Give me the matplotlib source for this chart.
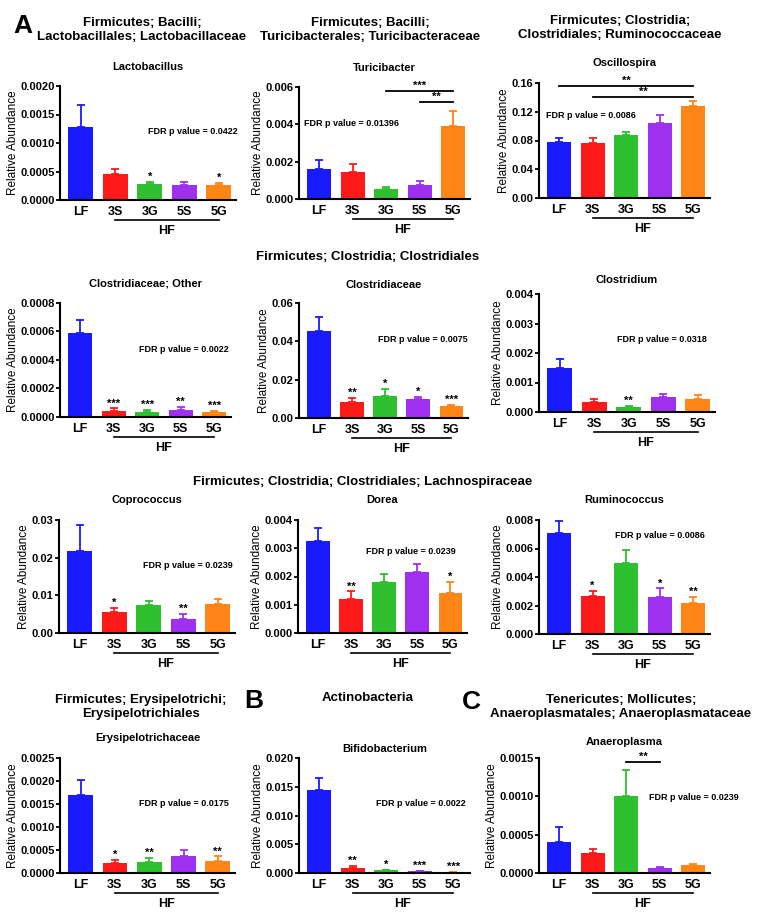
import matplotlib.pyplot as plt
import numpy as np
from matplotlib.ticker import FormatStrFormatter

plt.rcParams['font.family'] = ['Liberation Sans', 'DejaVu Sans']
plt.rcParams['font.weight'] = 'bold'

W, H = 762, 916

groups = ["LF", "3S", "3G", "5S", "5G"]
colors = ["#1a1aff", "#ff1a1a", "#2ec02e", "#a030f0", "#ff8516"]

# mean and upper SEM for each genus
lacto_mean = [0.00128, 0.00045, 0.00028, 0.00027, 0.00027]
lacto_sem = [0.00038, 0.00009, 0.00004, 0.00005, 0.00003]
lacto_stars = ["", "", "*", "", "*"]

turici_mean = [0.0016, 0.00145, 0.00052, 0.00075, 0.0039]
turici_sem = [0.0005, 0.00045, 0.00013, 0.0002, 0.0008]
turici_stars = ["", "", "", "", ""]
turici_brackets = [(2, 4, 0.0058, "***"), (3, 4, 0.0052, "**")]

oscillo_mean = [0.078, 0.077, 0.087, 0.105, 0.128]
oscillo_sem = [0.005, 0.006, 0.005, 0.011, 0.007]
oscillo_stars = ["", "", "", "", ""]
oscillo_brackets = [(0, 4, 0.156, "**"), (1, 4, 0.141, "**")]

cl_other_mean = [0.00059, 0.000042, 0.000038, 0.000048, 0.000033]
cl_other_sem = [0.00009, 0.000018, 0.000012, 0.00002, 0.000012]
cl_other_stars = ["", "***", "***", "**", "***"]

clfam_mean = [0.0455, 0.0085, 0.0115, 0.0097, 0.0062]
clfam_sem = [0.0072, 0.0018, 0.0037, 0.0015, 0.0006]
clfam_stars = ["", "**", "*", "*", "***"]

clost_mean = [0.00148, 0.00035, 0.00018, 0.0005, 0.00045]
clost_sem = [0.00032, 0.0001, 0.00004, 0.00012, 0.00013]
clost_stars = ["", "", "**", "", ""]

copro_mean = [0.0218, 0.0055, 0.0074, 0.0038, 0.0077]
copro_sem = [0.0068, 0.0011, 0.0012, 0.0012, 0.0014]
copro_stars = ["", "*", "", "**", ""]

dorea_mean = [0.00325, 0.0012, 0.0018, 0.00215, 0.0014]
dorea_sem = [0.00045, 0.00027, 0.0003, 0.0003, 0.0004]
dorea_stars = ["", "**", "", "", "*"]

rumino_mean = [0.0071, 0.0027, 0.0050, 0.0026, 0.0022]
rumino_sem = [0.0008, 0.0003, 0.0009, 0.0006, 0.0004]
rumino_stars = ["", "*", "", "*", "**"]

erysi_mean = [0.0017, 0.00022, 0.00024, 0.00037, 0.00026]
erysi_sem = [0.00033, 0.00006, 0.00009, 0.00012, 0.0001]
erysi_stars = ["", "*", "**", "", "**"]

bifido_mean = [0.0144, 0.0009, 0.0005, 0.0003, 0.0002]
bifido_sem = [0.0021, 0.0004, 0.0001, 0.00005, 0.00003]
bifido_stars = ["", "**", "*", "***", "***"]

anaero_mean = [0.0004, 0.00026, 0.0010, 0.00007, 0.0001]
anaero_sem = [0.0002, 0.00005, 0.00035, 0.00001, 0.00002]
anaero_stars = ["", "", "", "", ""]
anaero_brackets = [(2, 3, 0.00145, "**")]

fig = plt.figure(figsize=(W / 100, H / 100), dpi=100)


def ftext(x, y, s, **kw):
    fig.text(x / W, 1 - y / H, s, ha='center', va='center', **kw)


def panel(box, mean, sem, stars, ymax, nticks, fmt, title, title_y, fdr, fdr_xy, brackets=()):
    l, t, r, b = box
    ax = fig.add_axes([l / W, 1 - b / H, (r - l) / W, (b - t) / H])
    x = np.arange(len(groups))
    ax.bar(x, mean, width=0.72, color=colors, zorder=2)
    for i in x:
        ax.errorbar(i, mean[i], yerr=[[0], [sem[i]]], fmt='none', ecolor=colors[i],
                    elinewidth=1.3, capsize=3.2, capthick=1.3, zorder=1)
        if stars[i]:
            ax.annotate(stars[i], (i, mean[i] + sem[i]), xytext=(0, 0),
                        textcoords='offset points', ha='center', va='bottom', fontsize=8)
    for i1, i2, y, lab in brackets:
        ax.plot([i1, i2], [y, y], color='black', lw=1.3, clip_on=False)
        ax.text((i1 + i2) / 2, y, lab, ha='center', va='bottom', fontsize=8)
    ax.set_xlim(-0.6, 4.5)
    ax.set_ylim(0, ymax)
    ax.set_yticks(np.linspace(0, ymax, nticks + 1))
    ax.yaxis.set_major_formatter(FormatStrFormatter(fmt))
    ax.set_xticks(x)
    ax.set_xticklabels(groups, fontsize=9)
    ax.tick_params(axis='x', length=0, pad=4)
    ax.tick_params(axis='y', length=3, width=1.3, labelsize=8, pad=1)
    for s in ['top', 'right']:
        ax.spines[s].set_visible(False)
    for s in ['left', 'bottom']:
        ax.spines[s].set_linewidth(1.5)
    ax.set_ylabel("Relative Abundance", fontsize=8.5, labelpad=1)
    # HF group line under the high-fat diets
    hgt = b - t
    tr = ax.get_xaxis_transform()
    ax.plot([1, 4], [-20 / hgt, -20 / hgt], color='black', lw=1.2, transform=tr, clip_on=False)
    ax.text(2.5, -31 / hgt, "HF", transform=tr, ha='center', va='center', fontsize=9)
    ftext((l + r) / 2, title_y, title, fontsize=8)
    ftext(fdr_xy[0], fdr_xy[1], "FDR p value = " + fdr, fontsize=6.5)
    return ax


# row 1
panel((60, 86, 236, 200), lacto_mean, lacto_sem, lacto_stars, 0.002, 4, '%.4f',
      "Lactobacillus", 67, "0.0422", (193, 132))
panel((299, 87, 470, 199), turici_mean, turici_sem, turici_stars, 0.006, 3, '%.3f',
      "Turicibacter", 68, "0.01396", (351, 124), turici_brackets)
panel((539, 83, 710, 198), oscillo_mean, oscillo_sem, oscillo_stars, 0.16, 4, '%.2f',
      "Oscillospira", 63, "0.0086", (591, 116), oscillo_brackets)

# row 2
panel((60, 303, 231, 417), cl_other_mean, cl_other_sem, cl_other_stars, 0.0008, 4, '%.4f',
      "Clostridiaceae; Other", 283, "0.0022", (184, 350))
panel((299, 303, 468, 418), clfam_mean, clfam_sem, clfam_stars, 0.06, 3, '%.2f',
      "Clostridiaceae", 285, "0.0075", (423, 339))
panel((539, 294, 715, 412), clost_mean, clost_sem, clost_stars, 0.004, 4, '%.3f',
      "Clostridium", 280, "0.0318", (662, 340))

# row 3
panel((59, 520, 235, 633), copro_mean, copro_sem, copro_stars, 0.03, 3, '%.2f',
      "Coprococcus", 500, "0.0239", (188, 565))
panel((298, 520, 467, 633), dorea_mean, dorea_sem, dorea_stars, 0.004, 4, '%.3f',
      "Dorea", 500, "0.0239", (411, 552))
panel((539, 520, 710, 634), rumino_mean, rumino_sem, rumino_stars, 0.008, 4, '%.3f',
      "Ruminococcus", 500, "0.0086", (660, 535))

# row 4
panel((60, 758, 235, 873), erysi_mean, erysi_sem, erysi_stars, 0.0025, 5, '%.4f',
      "Erysipelotrichaceae", 738, "0.0175", (184, 803))
panel((299, 758, 470, 873), bifido_mean, bifido_sem, bifido_stars, 0.02, 4, '%.3f',
      "Bifidobacterium", 749, "0.0022", (421, 803))
panel((539, 758, 710, 873), anaero_mean, anaero_sem, anaero_stars, 0.0015, 3, '%.4f',
      "Anaeroplasma", 742, "0.0239", (694, 798), anaero_brackets)

# taxonomy headers and panel letters
hdr = dict(fontsize=9.5, linespacing=1.15)
ftext(142, 30, "Firmicutes; Bacilli;\nLactobacillales; Lactobacillaceae", **hdr)
ftext(370, 30, "Firmicutes; Bacilli;\nTuricibacterales; Turicibacteraceae", **hdr)
ftext(620, 28, "Firmicutes; Clostridia;\nClostridiales; Ruminococcaceae", **hdr)
ftext(368, 257, "Firmicutes; Clostridia; Clostridiales", **hdr)
ftext(363, 482, "Firmicutes; Clostridia; Clostridiales; Lachnospiraceae", **hdr)
ftext(141, 707, "Firmicutes; Erysipelotrichi;\nErysipelotrichiales", **hdr)
ftext(368, 698, "Actinobacteria", **hdr)
ftext(621, 707, "Tenericutes; Mollicutes;\nAnaeroplasmatales; Anaeroplasmataceae", **hdr)

ftext(23, 26, "A", fontsize=19)
ftext(254, 701, "B", fontsize=19)
ftext(471, 702, "C", fontsize=19)

fig.savefig("out.png", dpi=100, facecolor='white')
